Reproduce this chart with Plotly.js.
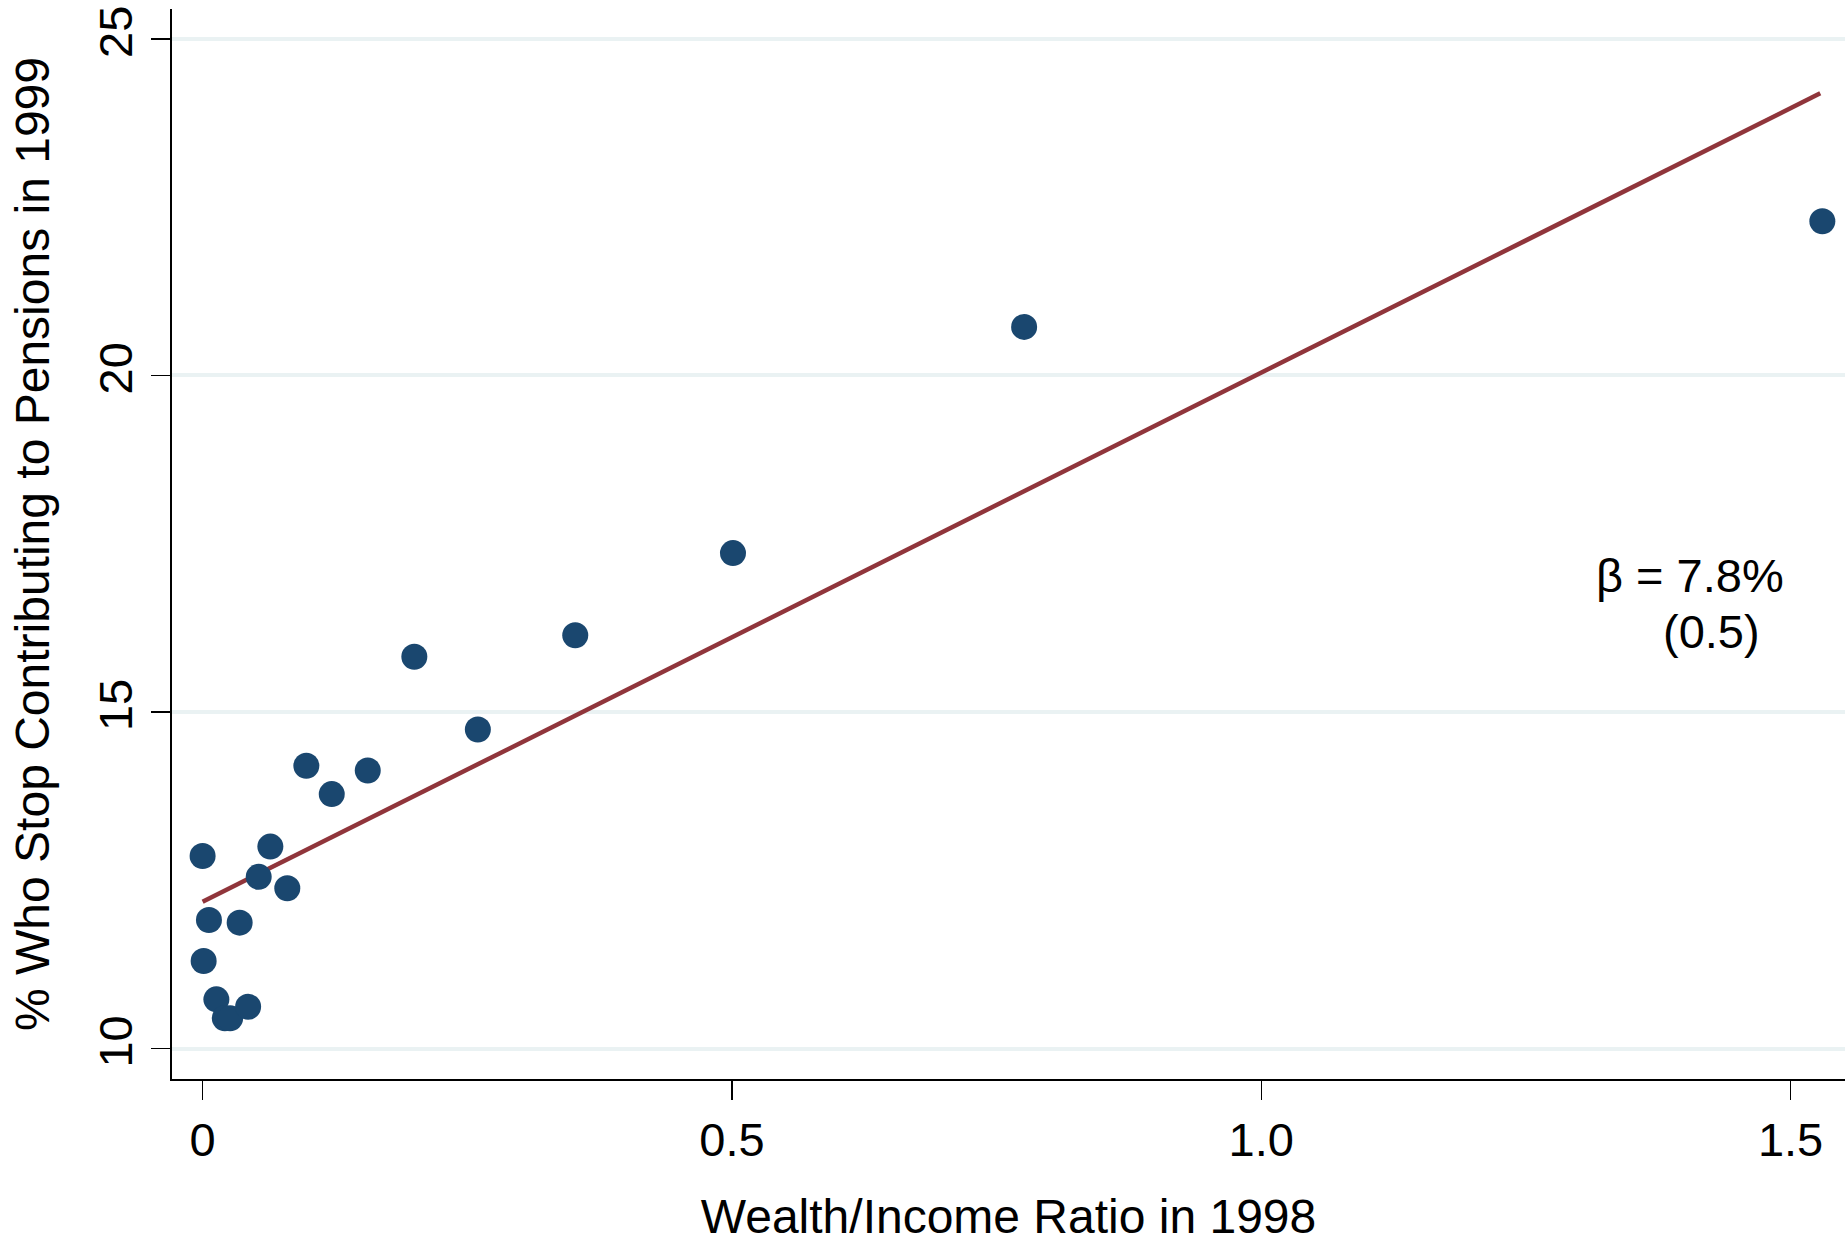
<!DOCTYPE html>
<html>
<head>
<meta charset="utf-8">
<script src="https://cdn.plot.ly/plotly-3.0.1.min.js"></script>
<style>
html, body { margin: 0; padding: 0; background: #ffffff; }
#chart { width: 1845px; height: 1243px; }
</style>
</head>
<body>
<div id="chart"></div>
<script>
// Binned scatter: wealth/income ratio (1998) vs % who stop contributing (1999)
const wealthRatio = [0.000, 0.064, 0.053, 0.080, 0.006, 0.035, 0.001, 0.013, 0.021, 0.026, 0.043,
                     0.098, 0.122, 0.156, 0.200, 0.260, 0.352, 0.501, 0.776, 1.530];
const pctStop     = [12.86, 13.00, 12.55, 12.38, 11.91, 11.87, 11.30, 10.73, 10.45, 10.45, 10.62,
                     14.20, 13.78, 14.13, 15.82, 14.74, 16.14, 17.36, 20.72, 22.29];
// Fitted line endpoints
const fitX = [0.000, 1.528];
const fitY = [12.18, 24.19];
const xTickVals = [0, 0.5, 1.0, 1.5];
const xTickText = ['0', '0.5', '1.0', '1.5'];
const yTickVals = [10, 15, 20, 25];
const yTickText = ['10', '15', '20', '25'];
const betaLabel = 'β = 7.8%';
const seLabel = '(0.5)';

const FONT = 'Liberation Sans, Arial, Helvetica, sans-serif';

const traces = [
  {
    x: fitX, y: fitY, type: 'scatter', mode: 'lines',
    line: { color: '#90353b', width: 4.5 },
    hoverinfo: 'skip', showlegend: false
  },
  {
    x: wealthRatio, y: pctStop, type: 'scatter', mode: 'markers',
    marker: { color: '#1a476f', size: 26, line: { width: 0 } },
    showlegend: false
  }
];

const layout = {
  width: 1845, height: 1243,
  margin: { l: 172, r: 0, t: 9, b: 164 },
  paper_bgcolor: '#ffffff', plot_bgcolor: '#ffffff',
  font: { family: FONT, size: 47, color: '#000000' },
  showlegend: false,
  xaxis: {
    range: [-0.0289, 1.5514],
    tickmode: 'array', tickvals: xTickVals, ticktext: xTickText,
    ticks: 'outside', ticklen: 19, tickwidth: 1.5, tickcolor: '#000000',
    showline: true, linecolor: '#000000', linewidth: 2,
    showgrid: false, zeroline: false,
    tickfont: { family: FONT, size: 47, color: '#000000' },
    title: { text: 'Wealth/Income Ratio in 1998', font: { family: FONT, size: 48, color: '#000000' }, standoff: 39 }
  },
  yaxis: {
    range: [9.547, 25.443],
    tickmode: 'array', tickvals: yTickVals, ticktext: yTickText,
    ticks: 'outside', ticklen: 19, tickwidth: 1.5, tickcolor: '#000000',
    tickangle: -90,
    showline: true, linecolor: '#000000', linewidth: 2,
    showgrid: true, gridcolor: '#eaf2f3', gridwidth: 4,
    zeroline: false,
    tickfont: { family: FONT, size: 47, color: '#000000' },
    title: { text: '% Who Stop Contributing to Pensions in 1999', font: { family: FONT, size: 48, color: '#000000' }, standoff: 24 }
  },
  annotations: [
    { x: 1.314, y: 17.03, xref: 'x', yref: 'y', text: betaLabel, showarrow: false,
      xanchor: 'left', yanchor: 'middle', font: { family: FONT, size: 47, color: '#000000' } },
    { x: 1.378, y: 16.20, xref: 'x', yref: 'y', text: seLabel, showarrow: false,
      xanchor: 'left', yanchor: 'middle', font: { family: FONT, size: 47, color: '#000000' } }
  ]
};

Plotly.newPlot('chart', traces, layout, { displayModeBar: false, staticPlot: true });
</script>
</body>
</html>
